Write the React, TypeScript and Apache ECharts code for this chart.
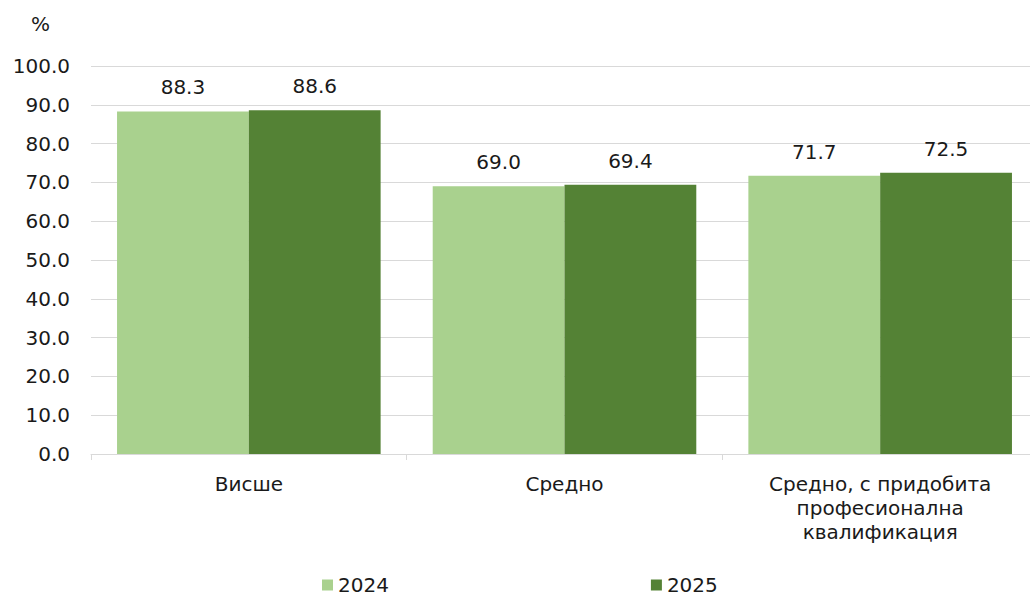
import React, { useEffect, useRef } from "react";
import * as echarts from "echarts";

const categories = ["Висше", "Средно", "Средно, с придобита\nпрофесионална\nквалификация"];
const series2024 = [88.3, 69.0, 71.7];
const series2025 = [88.6, 69.4, 72.5];
const seriesNames = ["2024", "2025"];
const yTicks = { min: 0, max: 100, interval: 10 };

const FONT = "DejaVu Sans";
const TEXT = "#1a1a1a";

export default function App() {
  const ref = useRef<HTMLDivElement>(null);
  useEffect(() => {
    if (!ref.current) return;
    const chart = echarts.init(ref.current, undefined, { renderer: "svg" });
    const label = {
      show: true,
      position: "top",
      distance: 14,
      color: TEXT,
      fontFamily: FONT,
      fontSize: 20,
      formatter: (p: any) => Number(p.value).toFixed(1),
    };
    chart.setOption({
      animation: false,
      textStyle: { fontFamily: FONT },
      graphic: [
        {
          type: "text",
          left: 31,
          top: 14,
          style: { text: "%", fill: TEXT, font: `20px "${FONT}"` },
        },
      ],
      grid: { left: 91, right: 2, top: 66, bottom: 145, containLabel: false },
      legend: {
        left: 322,
        top: 575,
        itemWidth: 11,
        itemHeight: 11,
        itemGap: 262,
        icon: "rect",
        padding: 0,
        textStyle: { color: TEXT, fontFamily: FONT, fontSize: 20, lineHeight: 20, padding: [0, 0, 0, 0] },
        data: seriesNames,
      },
      xAxis: {
        type: "category",
        data: categories,
        axisLine: { show: true, lineStyle: { color: "#d9d9d9", width: 1 } },
        axisTick: { show: true, length: 6, lineStyle: { color: "#d9d9d9" } },
        axisLabel: {
          color: TEXT,
          fontFamily: FONT,
          fontSize: 20,
          lineHeight: 24,
          margin: 18,
          interval: 0,
          align: "center",
        },
      },
      yAxis: {
        type: "value",
        min: yTicks.min,
        max: yTicks.max,
        interval: yTicks.interval,
        axisLine: { show: false },
        axisTick: { show: false },
        splitLine: { lineStyle: { color: "#d9d9d9", width: 1 } },
        axisLabel: {
          color: TEXT,
          fontFamily: FONT,
          fontSize: 20,
          margin: 21,
          formatter: (v: number) => v.toFixed(1),
        },
      },
      series: [
        {
          name: seriesNames[0],
          type: "bar",
          data: series2024,
          barGap: "0%",
          barCategoryGap: "16.5%",
          itemStyle: { color: "#A9D18E" },
          label,
        },
        {
          name: seriesNames[1],
          type: "bar",
          data: series2025,
          barGap: "0%",
          barCategoryGap: "16.5%",
          itemStyle: { color: "#548235" },
          label,
        },
      ],
    });
    return () => chart.dispose();
  }, []);
  return (
    <div
      style={{ position: "fixed", left: 0, top: 0, width: 1030, height: 599, overflow: "hidden", background: "#fff" }}
    >
      <div ref={ref} style={{ width: 1040, height: 599 }} />
    </div>
  );
}
